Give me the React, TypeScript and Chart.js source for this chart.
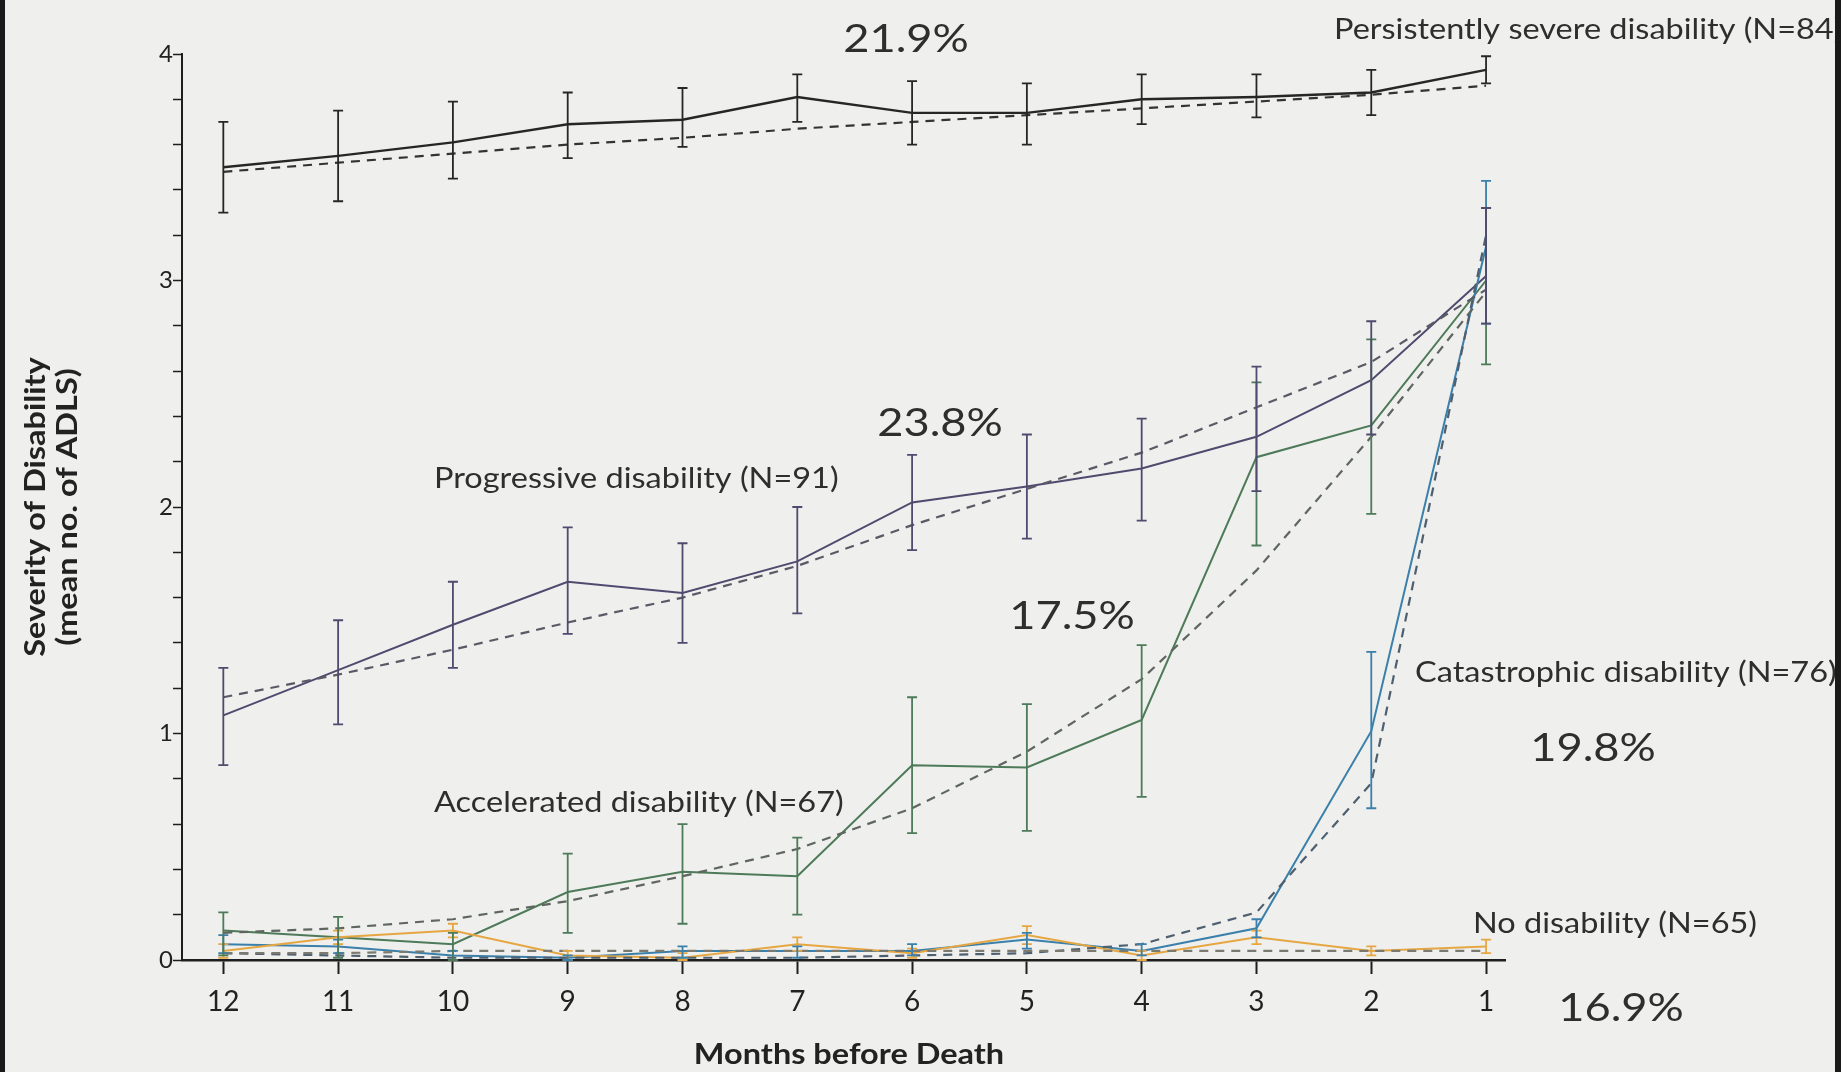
import React, { useEffect, useRef } from "react";
import { Chart, registerables } from "chart.js";

Chart.register(...registerables);

// ---------- data ----------
const months = [12, 11, 10, 9, 8, 7, 6, 5, 4, 3, 2, 1];

const persistent = [3.5, 3.55, 3.61, 3.69, 3.71, 3.81, 3.74, 3.74, 3.8, 3.81, 3.83, 3.93];
const persistentFit = [3.48, 3.52, 3.56, 3.6, 3.63, 3.67, 3.7, 3.73, 3.76, 3.79, 3.82, 3.86];
const persistentLow = [3.3, 3.35, 3.45, 3.54, 3.59, 3.7, 3.6, 3.6, 3.69, 3.72, 3.73, 3.87];
const persistentHigh = [3.7, 3.75, 3.79, 3.83, 3.85, 3.91, 3.88, 3.87, 3.91, 3.91, 3.93, 3.99];

const progressive = [1.08, 1.28, 1.48, 1.67, 1.62, 1.76, 2.02, 2.09, 2.17, 2.31, 2.56, 3.02];
const progressiveFit = [1.16, 1.26, 1.37, 1.49, 1.6, 1.74, 1.92, 2.08, 2.24, 2.44, 2.64, 2.96];
const progressiveLow = [0.86, 1.04, 1.29, 1.44, 1.4, 1.53, 1.81, 1.86, 1.94, 2.07, 2.32, 2.81];
const progressiveHigh = [1.29, 1.5, 1.67, 1.91, 1.84, 2.0, 2.23, 2.32, 2.39, 2.62, 2.82, 3.32];

const accelerated = [0.13, 0.1, 0.07, 0.3, 0.39, 0.37, 0.86, 0.85, 1.06, 2.22, 2.36, 3.0];
const acceleratedFit = [0.12, 0.14, 0.18, 0.26, 0.37, 0.49, 0.67, 0.92, 1.24, 1.72, 2.31, 2.95];
const acceleratedLow = [0.02, 0.01, 0.0, 0.12, 0.16, 0.2, 0.56, 0.57, 0.72, 1.83, 1.97, 2.63];
const acceleratedHigh = [0.21, 0.19, 0.12, 0.47, 0.6, 0.54, 1.16, 1.13, 1.39, 2.55, 2.74, 3.32];

const catastrophic = [0.07, 0.06, 0.02, 0.01, 0.04, 0.04, 0.04, 0.09, 0.04, 0.14, 1.01, 3.15];
const catastrophicFit = [0.03, 0.02, 0.01, 0.01, 0.01, 0.01, 0.02, 0.03, 0.07, 0.21, 0.78, 3.2];
const catastrophicLow = [0.03, 0.03, 0.0, 0.0, 0.01, 0.01, 0.02, 0.05, 0.02, 0.1, 0.67, 2.81];
const catastrophicHigh = [0.11, 0.09, 0.04, 0.02, 0.06, 0.06, 0.07, 0.12, 0.07, 0.18, 1.36, 3.44];

const noDisability = [0.04, 0.1, 0.13, 0.02, 0.01, 0.07, 0.03, 0.11, 0.02, 0.1, 0.04, 0.06];
const noDisabilityFit = [0.03, 0.03, 0.04, 0.04, 0.04, 0.04, 0.04, 0.04, 0.04, 0.04, 0.04, 0.04];
const noDisabilityLow = [0.01, 0.07, 0.1, 0.0, 0.0, 0.04, 0.01, 0.07, 0.0, 0.07, 0.02, 0.03];
const noDisabilityHigh = [0.07, 0.13, 0.16, 0.04, 0.03, 0.1, 0.05, 0.15, 0.04, 0.13, 0.06, 0.09];

const yTickLabels = ["0", "1", "2", "3", "4"];
const xTitle = "Months before Death";
const yTitle = ["Severity of Disability", "(mean no. of ADLS)"];

const groupLabels = [
  "Persistently severe disability (N=84)",
  "Progressive disability (N=91)",
  "Accelerated disability (N=67)",
  "Catastrophic disability (N=76)",
  "No disability (N=65)",
];
const percentLabels = ["21.9%", "23.8%", "17.5%", "19.8%", "16.9%"];

// ---------- styles / layout ----------
const W = 1841;
const H = 1072;
const FONT = "Lato, 'Open Sans', sans-serif";
const TEXT = "#2e2e2e";
const STRETCH = 1.16; // horizontal stretch of the scanned lettering

const COLORS = {
  persistent: "#262626",
  progressive: "#4f4a6e",
  accelerated: "#4d7a58",
  catastrophic: "#3a80aa",
  none: "#e6a743",
};

const toPts = (vals: number[]) => vals.map((v, i) => ({ x: months[i], y: v }));

// text placement (pixels): [text, x, y, align, size, weight]
const textItems: Array<[string, number, number, CanvasTextAlign, number, string]> = [
  [percentLabels[0], 906, 39, "center", 39, "normal"],
  [groupLabels[0], 1334, 30, "left", 28, "normal"],
  [percentLabels[1], 940, 423, "center", 39, "normal"],
  [groupLabels[1], 434, 479, "left", 28, "normal"],
  [percentLabels[2], 1072, 616, "center", 39, "normal"],
  [groupLabels[3], 1415, 673, "left", 28, "normal"],
  [percentLabels[3], 1593, 748, "center", 39, "normal"],
  [groupLabels[2], 434, 803, "left", 28, "normal"],
  [groupLabels[4], 1473, 924, "left", 28, "normal"],
  [percentLabels[4], 1621, 1008, "center", 39, "normal"],
];

function stretchedText(ctx: CanvasRenderingContext2D, t: string, x: number, y: number, rot = 0) {
  ctx.save();
  ctx.translate(x, y);
  if (rot) ctx.rotate(rot);
  ctx.scale(STRETCH, 1);
  ctx.fillText(t, 0, 0);
  ctx.restore();
}

const errorBarPlugin = {
  id: "errorBars",
  afterDatasetsDraw(chart: any) {
    const { ctx, scales } = chart;
    chart.data.datasets.forEach((ds: any, di: number) => {
      if (!ds.errLow) return;
      const meta = chart.getDatasetMeta(di);
      ctx.save();
      ctx.strokeStyle = ds.borderColor;
      ctx.lineWidth = 1.8;
      ctx.setLineDash([]);
      meta.data.forEach((pt: any, i: number) => {
        const x = pt.x;
        const y1 = scales.y.getPixelForValue(ds.errLow[i]);
        const y2 = scales.y.getPixelForValue(ds.errHigh[i]);
        ctx.beginPath();
        ctx.moveTo(x, y1);
        ctx.lineTo(x, y2);
        ctx.moveTo(x - 5, y1);
        ctx.lineTo(x + 5, y1);
        ctx.moveTo(x - 5, y2);
        ctx.lineTo(x + 5, y2);
        ctx.stroke();
      });
      ctx.restore();
    });
  },
};

const textPlugin = {
  id: "texts",
  afterDraw(chart: any) {
    const { ctx } = chart;
    ctx.save();
    ctx.fillStyle = TEXT;
    ctx.textBaseline = "middle";
    textItems.forEach(([t, x, y, align, size, weight]) => {
      ctx.font = `${weight} ${size}px ${FONT}`;
      ctx.textAlign = align;
      stretchedText(ctx, t, x, y);
    });
    // axis titles
    ctx.font = `bold 28px ${FONT}`;
    ctx.textAlign = "center";
    ctx.fillStyle = "#222";
    stretchedText(ctx, xTitle, 849, 1055);
    stretchedText(ctx, yTitle[0], 36, 507, -Math.PI / 2);
    stretchedText(ctx, yTitle[1], 68, 507, -Math.PI / 2);
    // scan borders
    ctx.fillStyle = "#1a1a1a";
    ctx.fillRect(0, 0, 5, H);
    ctx.fillRect(W - 6, 0, 6, H);
    ctx.restore();
  },
};

const bgPlugin = {
  id: "bg",
  beforeDraw(chart: any) {
    const { ctx } = chart;
    ctx.save();
    ctx.fillStyle = "#efefed";
    ctx.fillRect(0, 0, W, H);
    ctx.restore();
  },
};

function solid(label: string, vals: number[], color: string, low: number[], high: number[], width = 2) {
  return {
    label,
    data: toPts(vals),
    borderColor: color,
    backgroundColor: color,
    borderWidth: width,
    pointRadius: 0,
    tension: 0,
    errLow: low,
    errHigh: high,
  };
}

function dashed(label: string, vals: number[], color: string) {
  return {
    label,
    data: toPts(vals),
    borderColor: color,
    backgroundColor: color,
    borderWidth: 2.2,
    borderDash: [9, 7],
    pointRadius: 0,
    tension: 0,
  };
}

export default function App() {
  const ref = useRef<HTMLCanvasElement>(null);

  useEffect(() => {
    document.body.style.margin = "0";
    const canvas = ref.current!;
    const chart = new Chart(canvas, {
      type: "line",
      data: {
        datasets: [
          dashed("nofit", noDisabilityFit, "#7a7a70"),
          dashed("catfit", catastrophicFit, "#4e5f70"),
          dashed("accfit", acceleratedFit, "#5f6660"),
          dashed("progfit", progressiveFit, "#5a5a66"),
          dashed("persfit", persistentFit, "#333333"),
          solid("No disability", noDisability, COLORS.none, noDisabilityLow, noDisabilityHigh),
          solid("Catastrophic", catastrophic, COLORS.catastrophic, catastrophicLow, catastrophicHigh),
          solid("Accelerated", accelerated, COLORS.accelerated, acceleratedLow, acceleratedHigh),
          solid("Progressive", progressive, COLORS.progressive, progressiveLow, progressiveHigh),
          solid("Persistent", persistent, COLORS.persistent, persistentLow, persistentHigh, 2.4),
        ] as any,
      },
      options: {
        responsive: false,
        animation: false,
        layout: { padding: { left: 0, right: 336, top: 54, bottom: 0 } },
        plugins: {
          legend: { display: false },
          tooltip: { enabled: false },
        },
        scales: {
          x: {
            type: "linear",
            reverse: true,
            min: 0.835,
            max: 12.36,
            afterFit: (s: any) => {
              s.height = 112;
            },
            border: { display: true, color: "#1e1e1e", width: 2.5 },
            grid: {
              display: true,
              drawOnChartArea: false,
              drawTicks: true,
              tickLength: 14,
              tickColor: "#1e1e1e",
              tickWidth: 2,
            },
            ticks: {
              stepSize: 1,
              includeBounds: false,
              padding: 11,
              color: "#222",
              font: { family: FONT, size: 28 },
              maxRotation: 0,
              callback: (v: any) => (Number.isInteger(v) ? String(v) : ""),
            },
          },
          y: {
            type: "linear",
            min: 0,
            max: 4,
            afterFit: (s: any) => {
              s.width = 182;
            },
            border: { display: true, color: "#1e1e1e", width: 2 },
            grid: {
              display: true,
              drawOnChartArea: false,
              drawTicks: true,
              tickLength: 9,
              tickColor: "#1e1e1e",
              tickWidth: 1.5,
            },
            ticks: {
              stepSize: 0.2,
              padding: 0,
              color: "#222",
              font: { family: FONT, size: 24 },
              callback: (v: any) => {
                const r = Math.round(v);
                return Math.abs(v - r) < 1e-6 ? yTickLabels[r] : "";
              },
            },
          },
        },
      },
      plugins: [bgPlugin, errorBarPlugin, textPlugin],
    });
    return () => chart.destroy();
  }, []);

  return (
    <div style={{ width: W, height: H, background: "#efefed" }}>
      <canvas ref={ref} width={W} height={H} style={{ display: "block", width: W, height: H }} />
    </div>
  );
}
